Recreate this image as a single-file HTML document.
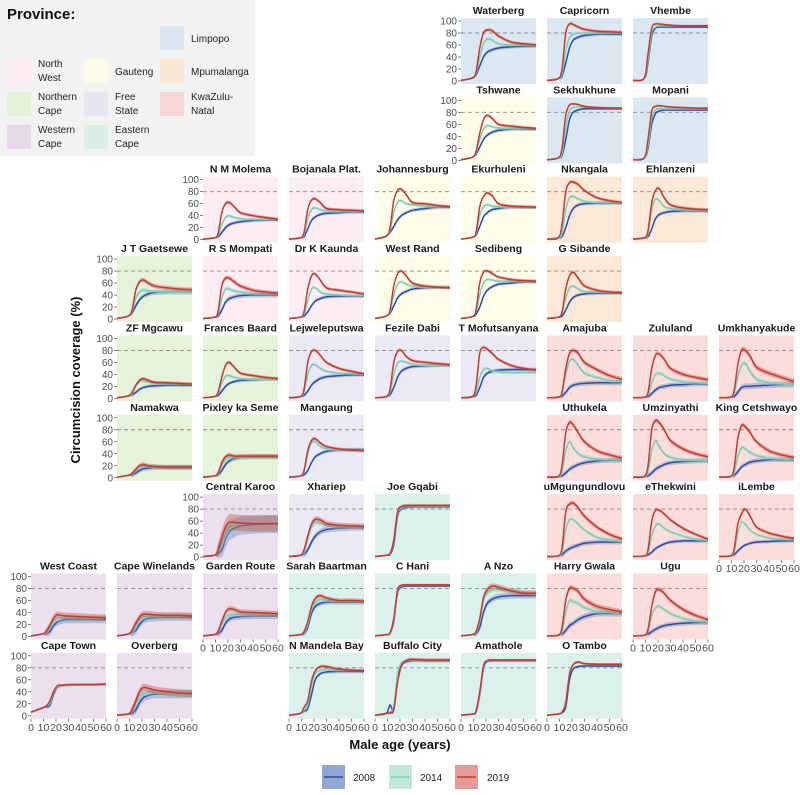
<!DOCTYPE html>
<html><head><meta charset="utf-8">
<style>
body{margin:0;background:#fff;}
svg text{font-family:"Liberation Sans",sans-serif;}
</style></head>
<body>
<svg id="chart" width="800" height="790" viewBox="0 0 800 790" xmlns="http://www.w3.org/2000/svg">
<g>
<rect x="0" y="0" width="255" height="156" fill="#f2f2f2"/>
<text x="7" y="19" font-size="15" font-weight="bold" fill="#111">Province:</text>
<rect x="160" y="26" width="24" height="24" fill="#dae6f0"/><text x="191" y="42" font-size="10" fill="#222">Limpopo</text>
<rect x="7" y="59" width="24" height="24" fill="#fbeaf1"/><text x="38" y="67" font-size="10" fill="#222">North</text><text x="38" y="81" font-size="10" fill="#222">West</text>
<rect x="84" y="59" width="24" height="24" fill="#fcfbe5"/><text x="115" y="75" font-size="10" fill="#222">Gauteng</text>
<rect x="160" y="59" width="24" height="24" fill="#f9e5d3"/><text x="191" y="75" font-size="10" fill="#222">Mpumalanga</text>
<rect x="7" y="92" width="24" height="24" fill="#e3f1d6"/><text x="38" y="100" font-size="10" fill="#222">Northern</text><text x="38" y="114" font-size="10" fill="#222">Cape</text>
<rect x="84" y="92" width="24" height="24" fill="#e6e4f0"/><text x="115" y="100" font-size="10" fill="#222">Free</text><text x="115" y="114" font-size="10" fill="#222">State</text>
<rect x="160" y="92" width="24" height="24" fill="#f8d6d4"/><text x="191" y="100" font-size="10" fill="#222">KwaZulu-</text><text x="191" y="114" font-size="10" fill="#222">Natal</text>
<rect x="7" y="125" width="24" height="24" fill="#e8d9ea"/><text x="38" y="133" font-size="10" fill="#222">Western</text><text x="38" y="147" font-size="10" fill="#222">Cape</text>
<rect x="84" y="125" width="24" height="24" fill="#d8eee8"/><text x="115" y="133" font-size="10" fill="#222">Eastern</text><text x="115" y="147" font-size="10" fill="#222">Cape</text>
</g>
<g id="panels"></g>
<text transform="translate(80,380) rotate(-90)" text-anchor="middle" font-size="13" font-weight="bold" fill="#111">Circumcision coverage (%)</text>
<text x="400" y="749" text-anchor="middle" font-size="13" font-weight="bold" fill="#111">Male age (years)</text>
<g>
<rect x="322" y="765" width="23" height="24" fill="#2a4fa8" opacity="0.5"/><line x1="324" y1="777" x2="343" y2="777" stroke="#2a4fa8" stroke-width="1.5"/><text x="353" y="781" font-size="10" fill="#222">2008</text>
<rect x="389" y="765" width="23" height="24" fill="#8fd3c1" opacity="0.55"/><line x1="391" y1="777" x2="410" y2="777" stroke="#7ecdb8" stroke-width="1.5"/><text x="420" y="781" font-size="10" fill="#222">2014</text>
<rect x="455" y="765" width="23" height="24" fill="#c8392f" opacity="0.5"/><line x1="457" y1="777" x2="476" y2="777" stroke="#c8392f" stroke-width="1.5"/><text x="487" y="781" font-size="10" fill="#222">2019</text>
</g>
</svg>
<script>
const ages=[0,9,12,15,18,21,25,30,40,50,60];
const yTicks=[0,20,40,60,80,100];
const xTicks=[0,10,20,30,40,50,60];
const names=["Waterberg","Capricorn","Vhembe","Tshwane","Sekhukhune","Mopani","N M Molema","Bojanala Plat.","Johannesburg","Ekurhuleni","Nkangala","Ehlanzeni","J T Gaetsewe","R S Mompati","Dr K Kaunda","West Rand","Sedibeng","G Sibande","ZF Mgcawu","Frances Baard","Lejweleputswa","Fezile Dabi","T Mofutsanyana","Amajuba","Zululand","Umkhanyakude","Namakwa","Pixley ka Seme","Mangaung","Uthukela","Umzinyathi","King Cetshwayo","Central Karoo","Xhariep","Joe Gqabi","uMgungundlovu","eThekwini","iLembe","West Coast","Cape Winelands","Garden Route","Sarah Baartman","C Hani","A Nzo","Harry Gwala","Ugu","Cape Town","Overberg","N Mandela Bay","Buffalo City","Amathole","O Tambo"];
const cols=[5,6,7,5,6,7,2,3,4,5,6,7,1,2,3,4,5,6,1,2,3,4,5,6,7,8,1,2,3,6,7,8,2,3,4,6,7,8,0,1,2,3,4,5,6,7,0,1,3,4,5,6];
const rows=[0,0,0,1,1,1,2,2,2,2,2,2,3,3,3,3,3,3,4,4,4,4,4,4,4,4,5,5,5,5,5,5,6,6,6,6,6,6,7,7,7,7,7,7,7,7,8,8,8,8,8,8];
const provs=["LP","LP","LP","GP","LP","LP","NW","NW","GP","GP","MP","MP","NC","NW","NW","GP","GP","MP","NC","NC","FS","FS","FS","KZN","KZN","KZN","NC","NC","FS","KZN","KZN","KZN","WC","FS","EC","KZN","KZN","KZN","WC","WC","WC","EC","EC","EC","KZN","KZN","WC","WC","EC","EC","EC","EC"];
const ribbon=[3,3,2,3,2,2,3,3,3,3,3,3,4,4,3,3,3,3,3,3,3,3,3,4,4,5,4,4,3,4,4,4,15,5,3,4,3,3,6,6,5,4,2,5,5,4,2,7,3,3,2,2];
const v2008=[
[1,5,10,25,40,48,52,55,57,58,58],[1,4,8,30,55,68,73,76,78,78,78],[1,4,30,75,88,90,90,90,90,90,90],
[1,5,10,22,35,42,47,50,52,52,52],[1,4,8,35,68,80,84,86,86,86,86],[1,4,20,60,78,82,84,84,84,84,84],
[1,3,5,12,20,25,28,30,32,33,33],[1,3,5,18,32,38,42,44,45,46,46],[1,6,12,22,33,40,45,49,52,54,54],
[1,4,8,22,38,45,50,52,54,54,54],[1,3,5,20,40,52,58,60,61,61,61],[1,3,5,18,35,42,45,47,48,48,48],
[1,5,10,22,32,38,42,44,45,45,45],[1,3,5,15,28,34,37,39,40,40,40],[1,3,5,12,22,30,34,37,38,38,38],
[1,5,10,22,35,42,46,50,52,53,53],[1,4,8,20,38,48,54,58,60,62,62],[1,3,5,15,28,36,40,42,43,43,43],
[1,4,6,10,15,18,20,21,22,22,22],[1,3,5,12,20,25,28,30,31,32,32],[1,3,5,12,22,28,33,36,38,39,39],
[1,3,6,18,35,45,50,53,54,55,55],[1,3,5,18,35,42,45,47,48,48,48],[1,2,4,10,18,22,24,25,26,26,26],
[1,2,3,8,14,18,20,22,23,24,24],[1,2,3,10,18,20,20,21,22,23,23],[1,4,5,8,12,15,16,17,17,17,17],
[1,3,5,12,22,28,32,34,35,35,35],[1,3,5,12,25,35,40,44,46,47,47],[1,2,3,8,14,18,22,25,28,29,29],
[1,2,3,8,14,18,22,25,27,28,28],[1,2,4,10,18,22,26,28,30,30,30],[1,3,5,12,30,42,48,52,54,55,55],
[1,3,5,12,25,35,42,46,48,49,49],[1,3,5,20,68,80,83,84,84,84,84],[1,2,4,10,14,17,20,23,25,25,25],
[1,2,4,8,14,18,22,25,27,27,27],[1,2,4,10,16,20,23,25,26,27,27],[1,4,5,8,18,24,27,28,28,28,28],
[1,4,6,10,20,27,30,31,32,32,32],[1,3,5,10,22,29,32,33,34,34,34],[1,3,5,15,38,50,55,57,57,57,57],
[1,3,5,25,72,82,84,84,84,84,84],[1,3,5,15,40,55,62,66,68,68,68],[1,2,4,10,18,22,28,33,38,38,38],
[1,2,4,8,12,15,18,20,22,23,23],[6,13,15,17,35,47,50,51,52,52,52],[1,3,4,10,22,30,34,36,36,36,36],
[1,4,8,12,35,60,70,73,74,74,74],[1,4,18,10,60,86,90,92,92,92,92],[1,3,6,35,80,90,92,92,92,92,92],
[1,3,5,15,60,78,82,83,83,83,83]];
const v2014=[
[1,5,12,40,62,70,68,62,60,60,59],[1,4,12,50,72,78,80,80,80,80,80],[1,4,35,80,90,92,92,92,92,92,92],
[1,5,12,35,52,58,56,54,53,53,53],[1,4,12,55,82,88,89,89,88,88,87],[1,4,25,70,84,86,86,86,86,86,86],
[1,3,7,25,37,40,37,35,34,34,34],[1,3,8,35,50,53,50,48,47,47,47],[1,6,15,45,62,65,60,58,56,55,55],
[1,4,10,40,55,58,56,55,54,54,54],[1,3,10,50,70,72,68,64,62,62,61],[1,3,10,50,68,65,55,52,50,49,49],
[1,5,12,35,45,48,47,46,45,45,45],[1,3,8,35,50,50,47,45,43,42,42],[1,3,8,30,50,52,45,42,40,39,39],
[1,5,12,40,58,62,58,55,53,53,53],[1,4,12,40,60,66,65,63,63,63,63],[1,3,10,35,52,55,50,46,45,44,44],
[1,4,8,20,28,29,27,25,24,24,24],[1,3,8,25,37,38,35,33,32,32,32],[1,3,10,40,55,56,50,45,42,41,40],
[1,3,10,40,58,62,60,57,55,55,55],[1,3,10,35,48,50,46,44,43,43,43],[1,2,8,40,62,65,55,42,35,30,28],
[1,2,6,25,40,42,38,32,28,26,25],[1,2,8,35,55,58,45,32,26,24,23],[1,4,6,12,18,20,19,18,18,18,18],
[1,3,7,20,30,34,34,34,34,34,34],[1,3,10,40,58,60,52,48,46,46,46],[1,2,10,45,60,50,40,35,31,30,30],
[1,2,10,45,62,52,40,34,30,29,29],[1,2,8,35,50,48,42,37,33,31,31],[1,3,8,25,40,50,55,56,56,56,56],
[1,3,8,30,50,57,56,53,51,50,50],[1,3,6,25,72,82,85,85,85,85,85],[1,2,8,45,62,62,55,45,33,29,26],
[1,2,8,35,52,55,48,42,35,30,28],[1,2,8,40,58,55,45,38,32,30,29],[1,4,6,15,25,29,30,30,30,30,30],
[1,4,7,15,28,32,33,33,33,33,33],[1,3,7,20,32,36,37,37,36,36,36],[1,3,6,20,45,57,62,60,58,58,58],
[1,3,6,28,75,84,86,86,86,86,86],[1,3,6,25,60,72,78,78,76,74,72],[1,2,8,40,60,58,55,48,42,40,38],
[1,2,8,35,48,50,45,38,30,26,24],[6,13,16,20,38,48,50,51,52,52,52],[1,3,8,20,32,38,40,38,36,36,36],
[1,4,10,18,50,70,76,78,76,76,76],[1,4,6,15,70,88,92,93,93,93,93],[1,3,7,38,82,91,93,93,93,93,93],
[1,3,6,25,72,86,88,87,86,86,86]];
const v2019=[
[1,5,15,55,80,85,84,75,65,62,60],[1,4,20,80,95,94,90,86,83,82,81],[1,5,45,88,95,95,94,93,92,92,92],
[1,5,15,45,68,75,70,60,57,55,53],[1,4,20,75,92,94,93,90,88,87,87],[1,4,35,82,90,91,90,89,88,87,87],
[1,3,10,45,60,62,55,45,40,37,34],[1,3,12,50,66,68,62,52,50,49,48],[1,6,20,65,82,84,75,62,60,57,55],
[1,4,12,55,72,78,73,60,56,55,54],[1,3,25,80,95,96,92,82,70,65,62],[1,3,15,62,82,85,70,58,53,51,50],
[1,5,15,48,62,65,60,55,52,50,49],[1,3,12,55,68,68,62,55,48,45,43],[1,3,12,50,72,75,65,52,48,45,42],
[1,5,15,55,75,80,72,60,55,53,52],[1,4,15,60,78,80,76,70,66,64,63],[1,3,12,50,72,78,68,55,48,45,44],
[1,4,10,22,30,33,30,27,26,25,24],[1,3,10,35,55,60,52,42,38,35,33],[1,3,15,60,78,80,72,60,50,45,41],
[1,3,15,60,78,80,70,63,60,58,56],[1,3,20,75,85,82,75,65,55,50,47],[1,2,10,50,75,80,75,60,48,38,32],
[1,2,10,50,72,74,65,50,40,35,31],[1,2,12,55,80,80,70,52,42,35,28],[1,4,7,14,20,22,20,19,18,18,18],
[1,3,8,25,35,38,36,36,36,36,36],[1,3,12,45,62,65,58,52,48,46,45],[1,2,20,75,92,88,75,60,45,38,33],
[1,2,20,80,95,92,80,62,48,40,35],[1,2,15,65,87,85,75,60,45,38,34],[1,3,10,32,50,58,58,57,56,56,56],
[1,3,12,35,55,63,62,56,53,52,51],[1,3,6,28,75,84,86,86,86,86,86],[1,2,15,75,88,90,82,68,50,38,30],
[1,2,12,60,78,78,72,62,48,38,30],[1,2,12,55,72,80,68,50,40,35,31],[1,4,8,18,30,36,35,34,33,32,31],
[1,4,10,22,32,37,37,36,35,35,34],[1,3,8,25,40,46,45,41,40,39,38],[1,3,8,25,50,63,68,64,60,60,59],
[1,3,6,30,77,85,86,86,86,86,86],[1,3,8,30,65,78,84,82,76,72,72],[1,2,15,60,80,80,75,62,50,45,41],
[1,2,12,50,75,78,72,60,45,35,28],[6,13,16,24,40,50,51,52,52,52,53],[1,3,10,25,40,47,46,43,40,38,37],
[1,4,14,25,58,75,82,82,78,76,75],[1,4,5,10,55,82,92,94,93,93,93],[1,3,8,40,83,92,93,93,93,93,93],
[1,3,6,20,68,85,90,87,86,86,86]];

const bg={LP:"#dce8f1",NW:"#fcedf3",GP:"#fdfde9",MP:"#fbe8d6",NC:"#e6f3da",FS:"#ebe9f3",WC:"#ede0ee",EC:"#dcf1eb",KZN:"#fbdedb"};
const series=[{v:v2008,c:"#2a4fa8",f:"#5a74b8"},{v:v2014,c:"#7ecdb8",f:"#8fd3c1"},{v:v2019,c:"#c8392f",f:"#c8392f"}];
const X0=31,PW=75,PH=66,Y0=18,DX=86,DY=79.35;
const NS="http://www.w3.org/2000/svg";
const root=document.getElementById('panels');
function mk(t,a,p){const e=document.createElementNS(NS,t);for(const k in a)e.setAttribute(k,a[k]);p.appendChild(e);return e;}
function xs(L,a){return L+a/60*PW;}
function ys(T,v){return T+3+(100-v)*0.6;}
function smooth(pts){let d="M"+pts[0][0].toFixed(2)+","+pts[0][1].toFixed(2);
 for(let i=0;i<pts.length-1;i++){const p0=pts[i-1]||pts[i],p1=pts[i],p2=pts[i+1],p3=pts[i+2]||p2;
  const c1=[p1[0]+(p2[0]-p0[0])/6,p1[1]+(p2[1]-p0[1])/6],c2=[p2[0]-(p3[0]-p1[0])/6,p2[1]-(p3[1]-p1[1])/6];
  d+="C"+c1[0].toFixed(2)+","+c1[1].toFixed(2)+" "+c2[0].toFixed(2)+","+c2[1].toFixed(2)+" "+p2[0].toFixed(2)+","+p2[1].toFixed(2);}
 return d;}
const minCol={},maxRow={};
names.forEach((n,i)=>{
 if(minCol[rows[i]]===undefined||cols[i]<minCol[rows[i]])minCol[rows[i]]=cols[i];
 if(maxRow[cols[i]]===undefined||rows[i]>maxRow[cols[i]])maxRow[cols[i]]=rows[i];
});
names.forEach((n,i)=>{
 const L=X0+cols[i]*DX,T=Y0+rows[i]*DY;
 const g=mk('g',{},root);
 
 
 mk('rect',{x:L,y:T,width:PW,height:PH,fill:bg[provs[i]]},g);
 const t=mk('text',{x:L+PW/2,y:T-4,'text-anchor':'middle','font-size':'10.5','font-weight':'bold',fill:'#1a1a1a'},g);
 t.textContent=n;
 mk('line',{x1:L,x2:L+PW,y1:ys(T,80),y2:ys(T,80),stroke:'#8a8a8a','stroke-width':0.9,'stroke-dasharray':'4,3'},g);
 series.forEach((s,k)=>{
  const vals=s.v[i],r=ribbon[i]*(k===0?1:0.9);
  const up=ages.map((a,j)=>[xs(L,a),ys(T,Math.min(100,vals[j]+(j<2?0.5:r)))]);
  const lo=ages.map((a,j)=>[xs(L,a),ys(T,Math.max(0,vals[j]-(j<2?0.5:r)))]).reverse();
  const rb=mk('path',{d:smooth(up)+"L"+smooth(lo).slice(1)+"Z",fill:s.f,opacity:0.35},g);
  
  
  const ln=mk('path',{d:smooth(ages.map((a,j)=>[xs(L,a),ys(T,vals[j])])),fill:'none',stroke:s.c,'stroke-width':1.5},g);
  
  
 });
 if(minCol[rows[i]]===cols[i]){
  yTicks.forEach(v=>{
   mk('line',{x1:L-3,x2:L,y1:ys(T,v),y2:ys(T,v),stroke:'#333','stroke-width':0.6},g);
   const tx=mk('text',{x:L-4,y:ys(T,v)+3.5,'text-anchor':'end','font-size':'10',fill:'#4d4d4d'},g);
   tx.textContent=v;
  });
 }
 if(maxRow[cols[i]]===rows[i]){
  xTicks.forEach(a=>{
   mk('line',{x1:xs(L,a),x2:xs(L,a),y1:T+PH,y2:T+PH+3,stroke:'#333','stroke-width':0.6},g);
   const tx=mk('text',{x:xs(L,a),y:T+PH+12,'text-anchor':'middle','font-size':'10.5',fill:'#4d4d4d'},g);
   tx.textContent=a;
  });
 }
});
</script>
</body></html>
